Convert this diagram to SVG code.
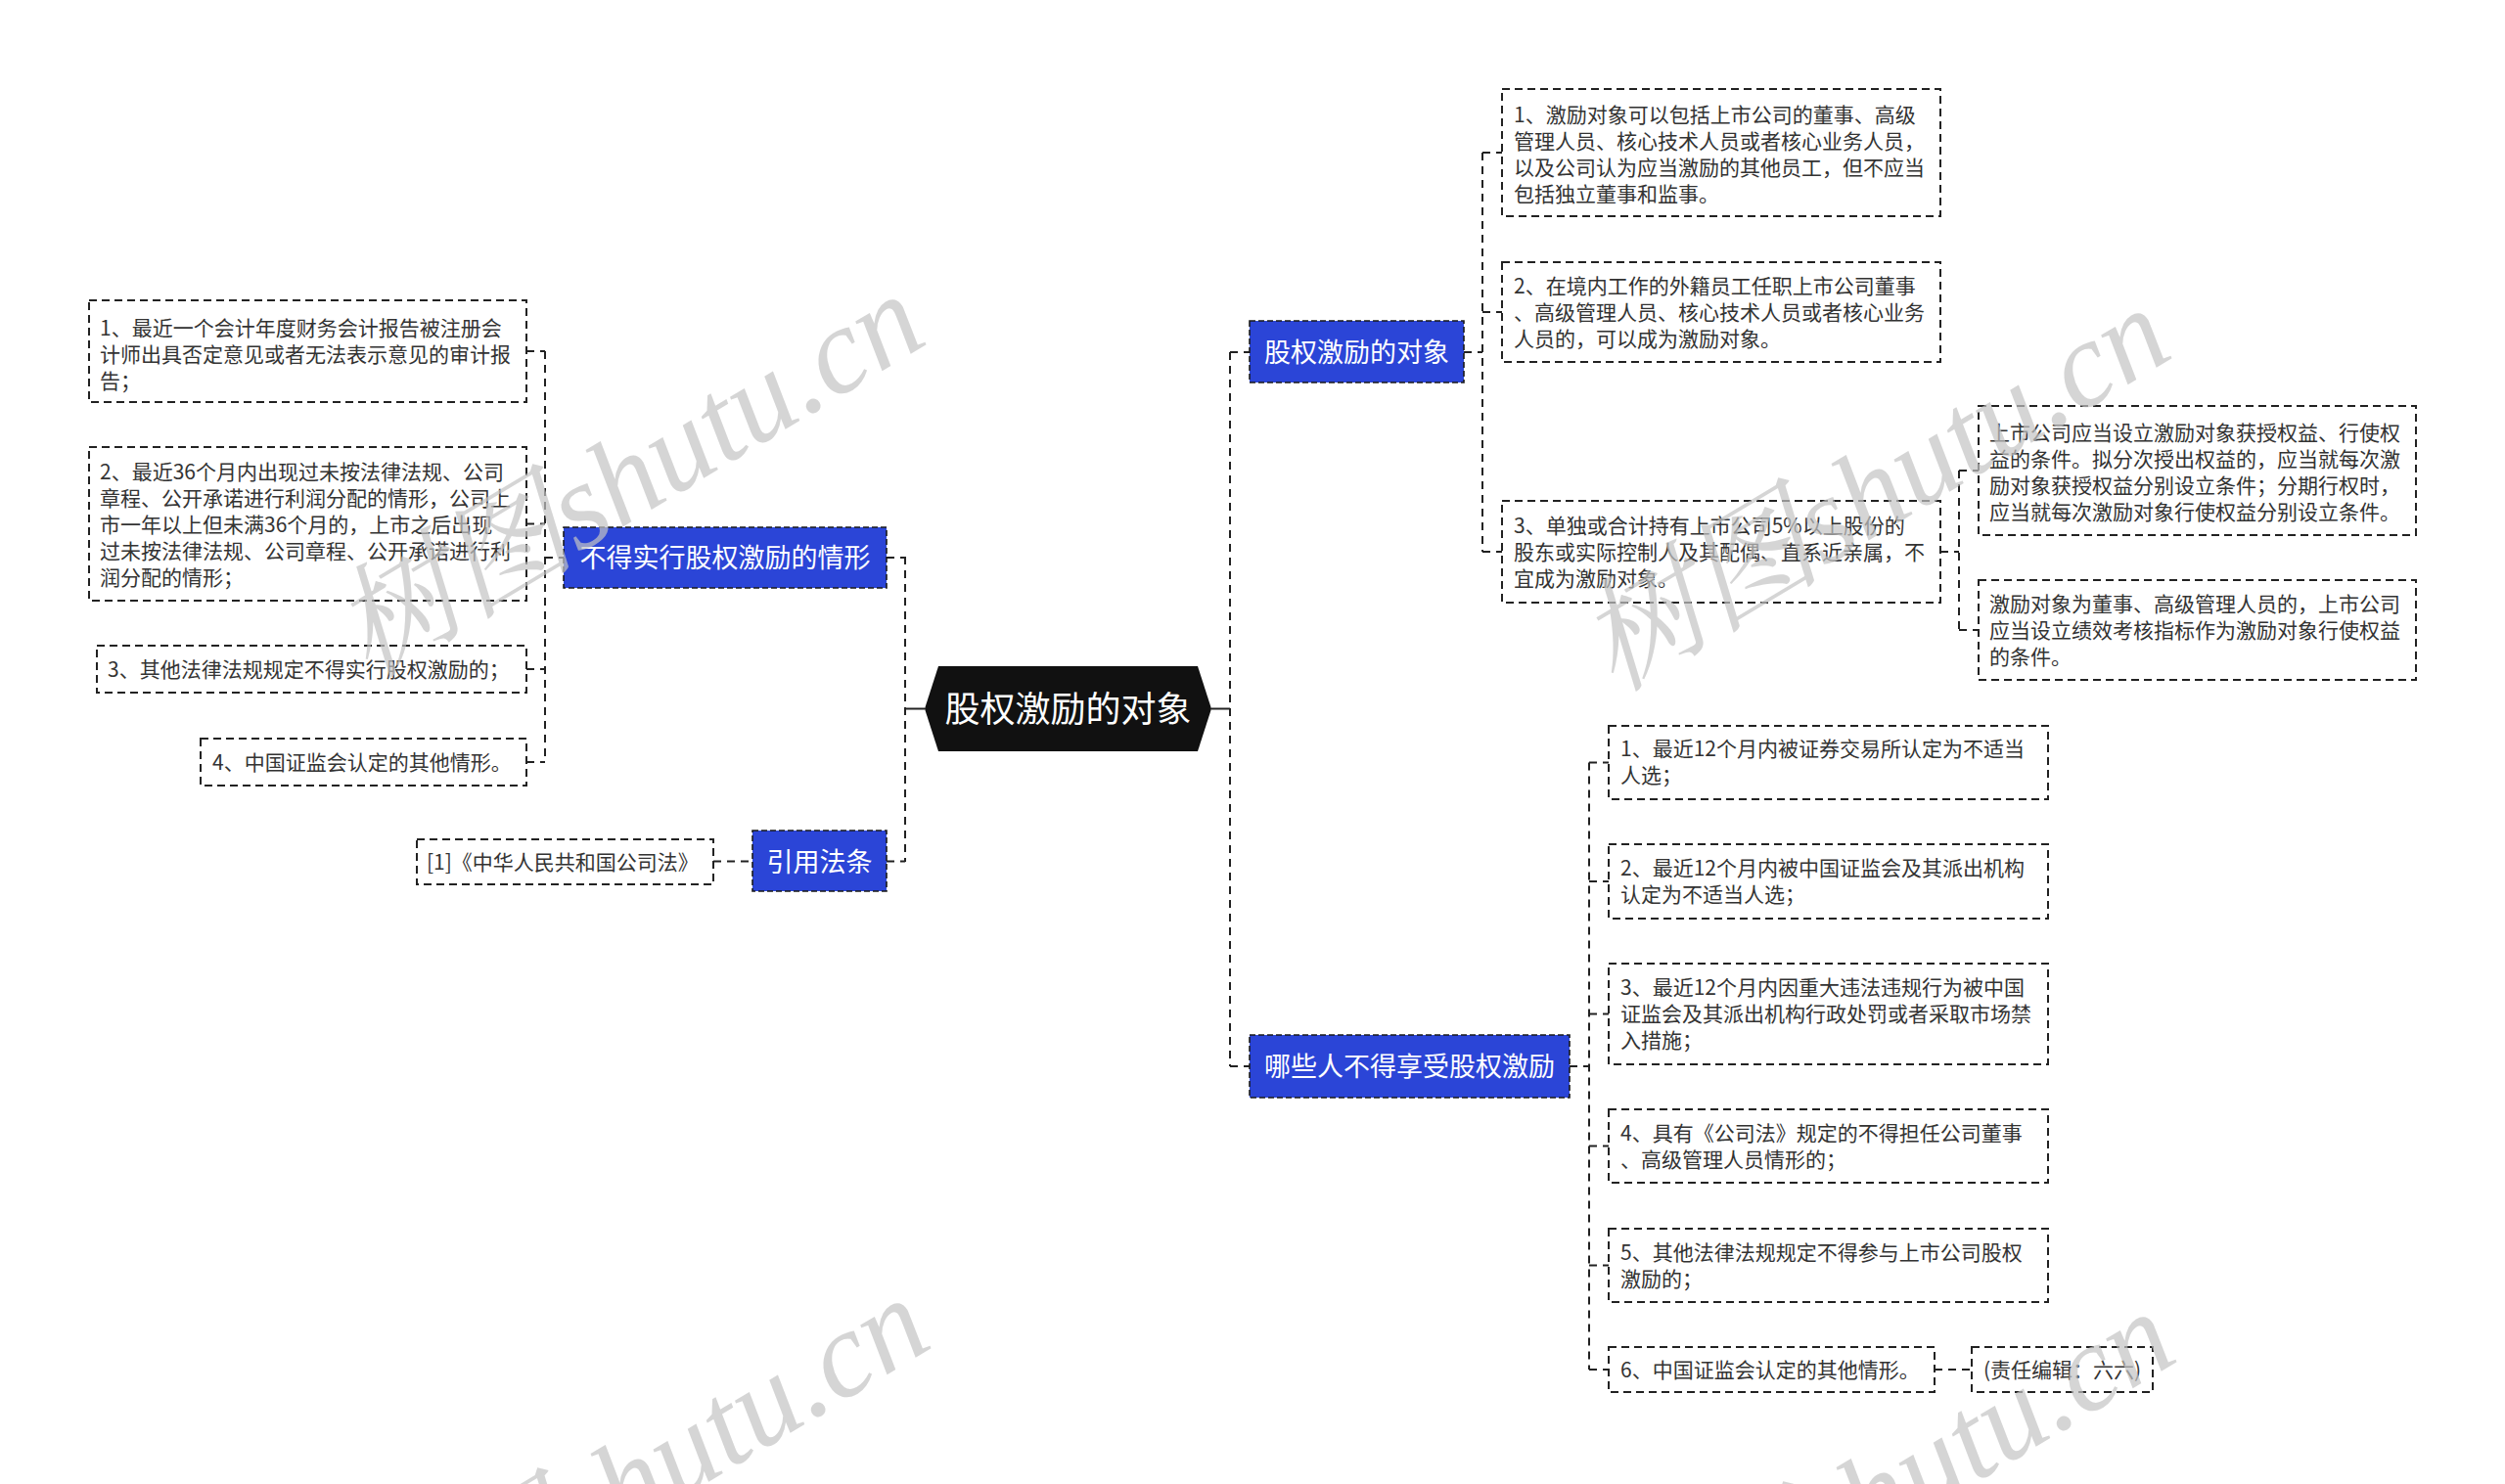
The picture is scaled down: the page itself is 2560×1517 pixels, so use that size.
<svg xmlns="http://www.w3.org/2000/svg" width="2560" height="1517" viewBox="0 0 2560 1517">
<style>
text{font-family:"Noto Sans CJK SC","Noto Sans",sans-serif;}
.wm{font-family:"Liberation Serif","Noto Serif CJK SC",serif;font-style:italic;font-size:125px;fill:#c4c4c4;opacity:0.7;}
.box{fill:#fff;stroke:#222;stroke-width:2;stroke-dasharray:8 5;}
.blue{fill:#2b45d7;stroke:#1a1a1a;stroke-width:1.6;stroke-dasharray:6 3;}
.t{font-size:21px;fill:#333;}
.bt{font-size:27px;fill:#fff;text-anchor:middle;}
.rt{font-size:36px;fill:#fff;text-anchor:middle;}
.c{fill:none;stroke:#222;stroke-width:2;stroke-dasharray:8 6;}
.cs{fill:none;stroke:#222;stroke-width:2;}
</style>
<rect width="2560" height="1517" fill="#fff"/>

<g id="connectors">
<line class="cs" x1="925" y1="724.5" x2="945" y2="724.5"/>
<line class="c" x1="925" y1="569" x2="925" y2="881"/>
<line class="c" x1="906" y1="570" x2="925" y2="570"/>
<line class="c" x1="906" y1="880.5" x2="925" y2="880.5"/>
<line class="c" x1="557" y1="570" x2="576" y2="570"/>
<line class="c" x1="557" y1="359" x2="557" y2="779"/>
<line class="c" x1="538" y1="359" x2="557" y2="359"/>
<line class="c" x1="538" y1="535.5" x2="557" y2="535.5"/>
<line class="c" x1="538" y1="684" x2="557" y2="684"/>
<line class="c" x1="538" y1="779" x2="557" y2="779"/>
<line class="c" x1="729" y1="880.5" x2="769" y2="880.5"/>
<line class="cs" x1="1238" y1="724.5" x2="1257" y2="724.5"/>
<line class="c" x1="1257" y1="360" x2="1257" y2="1090"/>
<line class="c" x1="1257" y1="360" x2="1277" y2="360"/>
<line class="c" x1="1257" y1="1090" x2="1277" y2="1090"/>
<line class="c" x1="1496" y1="360" x2="1515" y2="360"/>
<line class="c" x1="1515" y1="156" x2="1515" y2="564"/>
<line class="c" x1="1515" y1="156" x2="1535" y2="156"/>
<line class="c" x1="1515" y1="319" x2="1535" y2="319"/>
<line class="c" x1="1515" y1="564" x2="1535" y2="564"/>
<line class="c" x1="1983" y1="564" x2="2002" y2="564"/>
<line class="c" x1="2002" y1="481" x2="2002" y2="644"/>
<line class="c" x1="2002" y1="481" x2="2022" y2="481"/>
<line class="c" x1="2002" y1="644" x2="2022" y2="644"/>
<line class="c" x1="1604" y1="1090" x2="1624" y2="1090"/>
<line class="c" x1="1624" y1="779.5" x2="1624" y2="1400"/>
<line class="c" x1="1624" y1="779.5" x2="1644" y2="779.5"/>
<line class="c" x1="1624" y1="901" x2="1644" y2="901"/>
<line class="c" x1="1624" y1="1036.5" x2="1644" y2="1036.5"/>
<line class="c" x1="1624" y1="1171.5" x2="1644" y2="1171.5"/>
<line class="c" x1="1624" y1="1293.5" x2="1644" y2="1293.5"/>
<line class="c" x1="1624" y1="1400" x2="1644" y2="1400"/>
<line class="c" x1="1977" y1="1400" x2="2015" y2="1400"/>
</g>

<g id="root">
<polygon points="945,724.5 959,681 1224,681 1238,724.5 1224,768 959,768" fill="#111"/>
<text class="rt" x="1091.5" y="738">股权激励的对象</text>
</g>

<g id="n-left1">
<rect class="blue" x="576" y="539" width="330" height="62"/>
<text class="bt" x="741" y="580">不得实行股权激励的情形</text>
</g>
<g id="n-left2">
<rect class="blue" x="769" y="849" width="137" height="62"/>
<text class="bt" x="837.5" y="890.5">引用法条</text>
</g>
<g id="n-ref">
<rect class="box" x="426" y="858" width="303" height="46"/>
<text class="t" x="436" y="888.5">[1]《中华人民共和国公司法》</text>
</g>
<g id="n-c1">
<rect class="box" x="91" y="307" width="447" height="104"/>
<text class="t" x="102"><tspan x="102" y="343">1、最近一个会计年度财务会计报告被注册会</tspan><tspan x="102" y="370">计师出具否定意见或者无法表示意见的审计报</tspan><tspan x="102" y="397">告；</tspan></text>
</g>
<g id="n-c2">
<rect class="box" x="91" y="457" width="447" height="157"/>
<text class="t"><tspan x="102" y="490">2、最近36个月内出现过未按法律法规、公司</tspan><tspan x="102" y="517">章程、公开承诺进行利润分配的情形，公司上</tspan><tspan x="102" y="544">市一年以上但未满36个月的，上市之后出现</tspan><tspan x="102" y="571">过未按法律法规、公司章程、公开承诺进行利</tspan><tspan x="102" y="598">润分配的情形；</tspan></text>
</g>
<g id="n-c3">
<rect class="box" x="99" y="660" width="439" height="48"/>
<text class="t" x="110" y="692">3、其他法律法规规定不得实行股权激励的；</text>
</g>
<g id="n-c4">
<rect class="box" x="205" y="755" width="333" height="48"/>
<text class="t" x="217" y="787">4、中国证监会认定的其他情形。</text>
</g>

<g id="n-right1">
<rect class="blue" x="1277" y="328" width="219" height="63"/>
<text class="bt" x="1386.5" y="370">股权激励的对象</text>
</g>
<g id="n-r1">
<rect class="box" x="1535" y="91" width="448" height="130"/>
<text class="t"><tspan x="1547" y="125">1、激励对象可以包括上市公司的董事、高级</tspan><tspan x="1547" y="152">管理人员、核心技术人员或者核心业务人员，</tspan><tspan x="1547" y="179">以及公司认为应当激励的其他员工，但不应当</tspan><tspan x="1547" y="206">包括独立董事和监事。</tspan></text>
</g>
<g id="n-r2">
<rect class="box" x="1535" y="268" width="448" height="102"/>
<text class="t"><tspan x="1547" y="300">2、在境内工作的外籍员工任职上市公司董事</tspan><tspan x="1547" y="327">、高级管理人员、核心技术人员或者核心业务</tspan><tspan x="1547" y="354">人员的，可以成为激励对象。</tspan></text>
</g>
<g id="n-r3">
<rect class="box" x="1535" y="512" width="448" height="104"/>
<text class="t"><tspan x="1547" y="545">3、单独或合计持有上市公司5%以上股份的</tspan><tspan x="1547" y="572">股东或实际控制人及其配偶、直系近亲属，不</tspan><tspan x="1547" y="599">宜成为激励对象。</tspan></text>
</g>
<g id="n-g1">
<rect class="box" x="2022" y="415" width="447" height="132"/>
<text class="t"><tspan x="2033" y="450">上市公司应当设立激励对象获授权益、行使权</tspan><tspan x="2033" y="477">益的条件。拟分次授出权益的，应当就每次激</tspan><tspan x="2033" y="504">励对象获授权益分别设立条件；分期行权时，</tspan><tspan x="2033" y="531">应当就每次激励对象行使权益分别设立条件。</tspan></text>
</g>
<g id="n-g2">
<rect class="box" x="2022" y="593" width="447" height="102"/>
<text class="t"><tspan x="2033" y="625">激励对象为董事、高级管理人员的，上市公司</tspan><tspan x="2033" y="652">应当设立绩效考核指标作为激励对象行使权益</tspan><tspan x="2033" y="679">的条件。</tspan></text>
</g>

<g id="n-right2">
<rect class="blue" x="1277" y="1058" width="327" height="64"/>
<text class="bt" x="1440.5" y="1100">哪些人不得享受股权激励</text>
</g>
<g id="n-w1">
<rect class="box" x="1644" y="742" width="449" height="75"/>
<text class="t"><tspan x="1656" y="773">1、最近12个月内被证券交易所认定为不适当</tspan><tspan x="1656" y="800">人选；</tspan></text>
</g>
<g id="n-w2">
<rect class="box" x="1644" y="863" width="449" height="76"/>
<text class="t"><tspan x="1656" y="895">2、最近12个月内被中国证监会及其派出机构</tspan><tspan x="1656" y="922">认定为不适当人选；</tspan></text>
</g>
<g id="n-w3">
<rect class="box" x="1644" y="985" width="449" height="103"/>
<text class="t"><tspan x="1656" y="1017">3、最近12个月内因重大违法违规行为被中国</tspan><tspan x="1656" y="1044">证监会及其派出机构行政处罚或者采取市场禁</tspan><tspan x="1656" y="1071">入措施；</tspan></text>
</g>
<g id="n-w4">
<rect class="box" x="1644" y="1134" width="449" height="75"/>
<text class="t"><tspan x="1656" y="1166">4、具有《公司法》规定的不得担任公司董事</tspan><tspan x="1656" y="1193">、高级管理人员情形的；</tspan></text>
</g>
<g id="n-w5">
<rect class="box" x="1644" y="1256" width="449" height="75"/>
<text class="t"><tspan x="1656" y="1288">5、其他法律法规规定不得参与上市公司股权</tspan><tspan x="1656" y="1315">激励的；</tspan></text>
</g>
<g id="n-w6">
<rect class="box" x="1644" y="1377" width="333" height="46"/>
<text class="t" x="1656" y="1408">6、中国证监会认定的其他情形。</text>
</g>
<g id="n-editor">
<rect class="box" x="2015" y="1377" width="185" height="46"/>
<text class="t" x="2027" y="1408">(责任编辑：六六)</text>
</g>

<g id="watermarks">
<text class="wm" text-anchor="middle" transform="translate(664,522) rotate(-31)">树图shutu.cn</text>
<text class="wm" text-anchor="middle" transform="translate(1937,536) rotate(-31)">树图shutu.cn</text>
<text class="wm" text-anchor="middle" transform="translate(669,1548) rotate(-31)">树图shutu.cn</text>
<text class="wm" text-anchor="middle" transform="translate(1942,1562) rotate(-31)">树图shutu.cn</text>
</g>
</svg>
